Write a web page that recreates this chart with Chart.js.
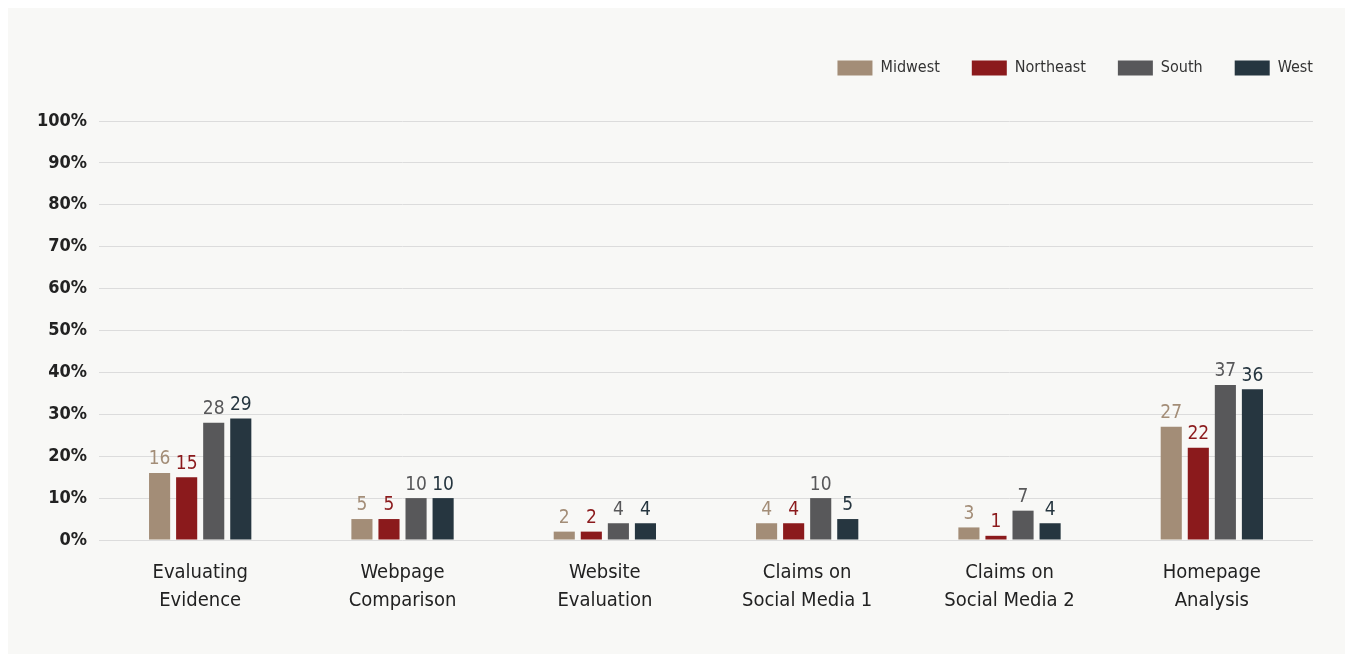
<!DOCTYPE html>
<html>
<head>
<meta charset="utf-8">
<script src="https://cdn.jsdelivr.net/npm/chart.js@4/dist/chart.umd.min.js"></script>
<style>
  html, body { margin: 0; padding: 0; background: #ffffff; }
  body { margin: 8px; }
  #wrap { width: 1337px; height: 646px; background: #f8f8f6; position: relative; }
  canvas { display: block; }
</style>
</head>
<body>
<div id="wrap"><canvas id="c"></canvas></div>
<script>
const categories = [
  ["Evaluating", "Evidence"],
  ["Webpage", "Comparison"],
  ["Website", "Evaluation"],
  ["Claims on", "Social Media 1"],
  ["Claims on", "Social Media 2"],
  ["Homepage", "Analysis"]
];
const seriesNames = ["Midwest", "Northeast", "South", "West"];
const midwest   = [16, 5, 2, 4, 3, 27];
const northeast = [15, 5, 2, 4, 1, 22];
const south     = [28, 10, 4, 10, 7, 37];
const west      = [29, 10, 4, 5, 4, 36];
const yTicks = [0, 10, 20, 30, 40, 50, 60, 70, 80, 90, 100];

const colors = ["#a38d77", "#8b1a1c", "#58585a", "#263640"];
const FONT = "'Liberation Sans Narrow', 'DejaVu Sans Condensed', 'Roboto Condensed', sans-serif";
const LEGEND_PAD = 32;

const valueLabels = {
  id: 'valueLabels',
  afterDatasetsDraw(chart) {
    const ctx = chart.ctx;
    ctx.save();
    ctx.font = "500 19px " + FONT;
    ctx.textAlign = 'center';
    ctx.textBaseline = 'bottom';
    chart.data.datasets.forEach((ds, i) => {
      const meta = chart.getDatasetMeta(i);
      meta.data.forEach((bar, j) => {
        ctx.fillStyle = ds.backgroundColor;
        ctx.fillText(String(Math.round(ds.data[j])), bar.x, bar.y - 4);
      });
    });
    ctx.restore();
  }
};

const legendTweak = {
  id: 'legendTweak',
  beforeInit(chart) {
    const origFit = chart.legend.fit;
    chart.legend.fit = function () {
      origFit.bind(chart.legend)();
      this.height += 35;
    };
  },
  afterLayout(chart) {
    chart.legend.left += LEGEND_PAD;
    chart.legend.right += LEGEND_PAD;
  }
};

const datasets = [midwest, northeast, south, west].map((d, i) => ({
  label: seriesNames[i],
  data: d,
  backgroundColor: colors[i],
  borderWidth: 0,
  barPercentage: 0.78,
  categoryPercentage: 0.535
}));

new Chart(document.getElementById('c'), {
  type: 'bar',
  data: { labels: categories, datasets },
  options: {
    responsive: true,
    maintainAspectRatio: false,
    animation: false,
    layout: { padding: { top: 20, right: 32, bottom: 20, left: 17 } },
    plugins: {
      legend: {
        position: 'top',
        align: 'end',
        labels: {
          boxWidth: 35,
          boxHeight: 15,
          padding: LEGEND_PAD,
          color: '#333333',
          font: { family: FONT, size: 16 }
        }
      },
      tooltip: { enabled: false }
    },
    scales: {
      x: {
        grid: { display: false, drawTicks: false },
        border: { display: false },
        ticks: {
          color: '#222222',
          padding: 19,
          font: { family: FONT, size: 20, weight: '500', lineHeight: 1.4 },
          maxRotation: 0
        }
      },
      y: {
        min: 0,
        max: 100,
        afterBuildTicks(axis) { axis.ticks = yTicks.map(v => ({ value: v })); },
        grid: { color: '#dcdcdc', lineWidth: 1, drawTicks: false },
        border: { display: false },
        ticks: {
          color: '#222222',
          padding: 12,
          font: { family: FONT, size: 18, weight: 'bold' },
          callback: v => v + '%'
        }
      }
    }
  },
  plugins: [valueLabels, legendTweak]
});
</script>
</body>
</html>
